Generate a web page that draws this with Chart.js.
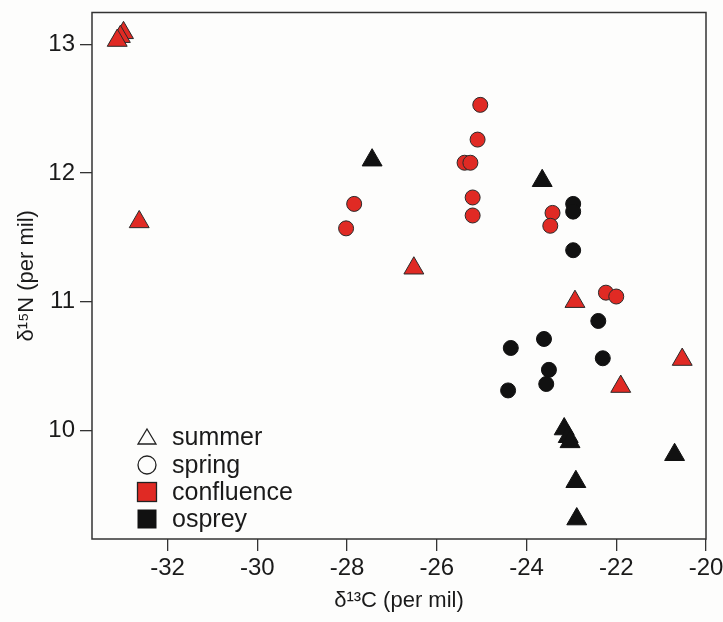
<!DOCTYPE html>
<html>
<head>
<meta charset="utf-8">
<script src="https://cdn.jsdelivr.net/npm/chart.js@4.4.1/dist/chart.umd.min.js"></script>
<style>
html,body{margin:0;padding:0;background:#fdfdfc;}
#wrap{width:723px;height:622px;position:relative;}
</style>
</head>
<body>
<div id="wrap"><canvas id="c" width="723" height="622"></canvas></div>
<script>
// δ13C (x) and δ15N (y) values
const confluenceSummerX = [-32.98, -33.05, -33.12, -32.63, -26.51, -22.92, -21.90, -20.53];
const confluenceSummerY = [13.09, 13.06, 13.03, 11.62, 11.26, 11.00, 10.34, 10.55];
const confluenceSpringX = [-28.02, -27.84, -25.03, -25.09, -25.38, -25.25, -25.20, -25.20, -23.42, -23.47, -22.23, -22.00];
const confluenceSpringY = [11.57, 11.76, 12.53, 12.26, 12.08, 12.08, 11.81, 11.67, 11.69, 11.59, 11.07, 11.04];
const ospreySummerX = [-27.44, -23.65, -23.16, -23.07, -23.03, -22.90, -22.88, -20.70];
const ospreySummerY = [12.10, 11.94, 10.01, 9.95, 9.91, 9.60, 9.31, 9.81];
const ospreySpringX = [-22.96, -22.96, -22.96, -22.40, -23.61, -24.35, -22.30, -23.50, -23.56, -24.41];
const ospreySpringY = [11.76, 11.70, 11.40, 10.85, 10.71, 10.64, 10.56, 10.47, 10.36, 10.31];
const xTicks = [-32, -30, -28, -26, -24, -22, -20];
const yTicks = [10, 11, 12, 13];
const legendLabels = ['summer', 'spring', 'confluence', 'osprey'];

const RED = '#e02a24';
const BLACK = '#111111';
const pts = (xs, ys) => xs.map((x, i) => ({x: x, y: ys[i]}));

const FONT = '"Liberation Sans", Arial, sans-serif';

const framePlugin = {
  id: 'frame',
  beforeDatasetsDraw(chart) {
    const {ctx, chartArea: a} = chart;
    ctx.save();
    ctx.strokeStyle = '#333';
    ctx.lineWidth = 1.5;
    ctx.strokeRect(a.left, a.top, a.right - a.left, a.bottom - a.top);
    ctx.restore();
  }
};

const legendPlugin = {
  id: 'customLegend',
  afterDraw(chart) {
    const {ctx, chartArea: a} = chart;
    const sx = a.left + 55;
    const tx = a.left + 80;
    const rows = [a.bottom - 102, a.bottom - 74, a.bottom - 47, a.bottom - 20];
    ctx.save();
    ctx.lineWidth = 1.3;
    ctx.strokeStyle = '#222';
    let y = rows[0];
    ctx.beginPath();
    ctx.moveTo(sx, y - 8);
    ctx.lineTo(sx + 9, y + 7);
    ctx.lineTo(sx - 9, y + 7);
    ctx.closePath();
    ctx.stroke();
    y = rows[1];
    ctx.beginPath();
    ctx.arc(sx, y, 9, 0, Math.PI * 2);
    ctx.stroke();
    y = rows[2];
    ctx.fillStyle = RED;
    ctx.fillRect(sx - 9.5, y - 9.5, 19, 19);
    ctx.strokeRect(sx - 9.5, y - 9.5, 19, 19);
    y = rows[3];
    ctx.fillStyle = BLACK;
    ctx.fillRect(sx - 9.5, y - 9.5, 19, 19);
    ctx.fillStyle = '#1a1a1a';
    ctx.font = '25px ' + FONT;
    ctx.textBaseline = 'middle';
    ctx.textAlign = 'left';
    legendLabels.forEach((t, i) => ctx.fillText(t, tx, rows[i] + 1));
    ctx.restore();
  }
};

const triangle = {pointStyle: 'triangle', pointRadius: 11.5, pointHoverRadius: 11.5, borderWidth: 1};
const circle = {pointStyle: 'circle', pointRadius: 7.5, pointHoverRadius: 7.5, borderWidth: 1};

new Chart(document.getElementById('c'), {
  type: 'scatter',
  data: {
    datasets: [
      Object.assign({label: 'confluence spring', data: pts(confluenceSpringX, confluenceSpringY), backgroundColor: RED, borderColor: '#2a2a2a'}, circle),
      Object.assign({label: 'osprey spring', data: pts(ospreySpringX, ospreySpringY), backgroundColor: BLACK, borderColor: BLACK}, circle),
      Object.assign({label: 'confluence summer', data: pts(confluenceSummerX, confluenceSummerY), backgroundColor: RED, borderColor: '#2a2a2a'}, triangle),
      Object.assign({label: 'osprey summer', data: pts(ospreySummerX, ospreySummerY), backgroundColor: BLACK, borderColor: BLACK}, triangle)
    ]
  },
  options: {
    responsive: false,
    animation: false,
    events: [],
    layout: {padding: {top: 11, right: 17, bottom: 0, left: 0}},
    plugins: {legend: {display: false}, tooltip: {enabled: false}},
    scales: {
      x: {
        type: 'linear',
        min: -33.682,
        max: -20,
        afterBuildTicks(s) { s.ticks = xTicks.map(v => ({value: v})); },
        afterFit(s) { s.height = 83; s.paddingLeft = 0; s.paddingRight = 0; },
        grid: {display: true, drawOnChartArea: false, drawTicks: true, tickLength: 12, color: '#333', lineWidth: 1.3},
        border: {display: false},
        ticks: {font: {family: FONT, size: 24}, color: '#1a1a1a', padding: 3, maxRotation: 0, autoSkip: false},
        title: {display: true, text: 'δ¹³C (per mil)', font: {family: FONT, size: 22}, color: '#1a1a1a', padding: {top: 0, bottom: 8}}
      },
      y: {
        type: 'linear',
        min: 9.155,
        max: 13.248,
        afterBuildTicks(s) { s.ticks = yTicks.map(v => ({value: v})); },
        afterFit(s) { s.width = 92; s.paddingTop = 0; s.paddingBottom = 0; },
        grid: {display: true, drawOnChartArea: false, drawTicks: true, tickLength: 12, color: '#333', lineWidth: 1.3},
        border: {display: false},
        ticks: {font: {family: FONT, size: 24}, color: '#1a1a1a', padding: 5, autoSkip: false},
        title: {display: true, text: 'δ¹⁵N (per mil)', font: {family: FONT, size: 22}, color: '#1a1a1a', padding: {top: 14, bottom: 0}}
      }
    }
  },
  plugins: [framePlugin, legendPlugin]
});
</script>
</body>
</html>
